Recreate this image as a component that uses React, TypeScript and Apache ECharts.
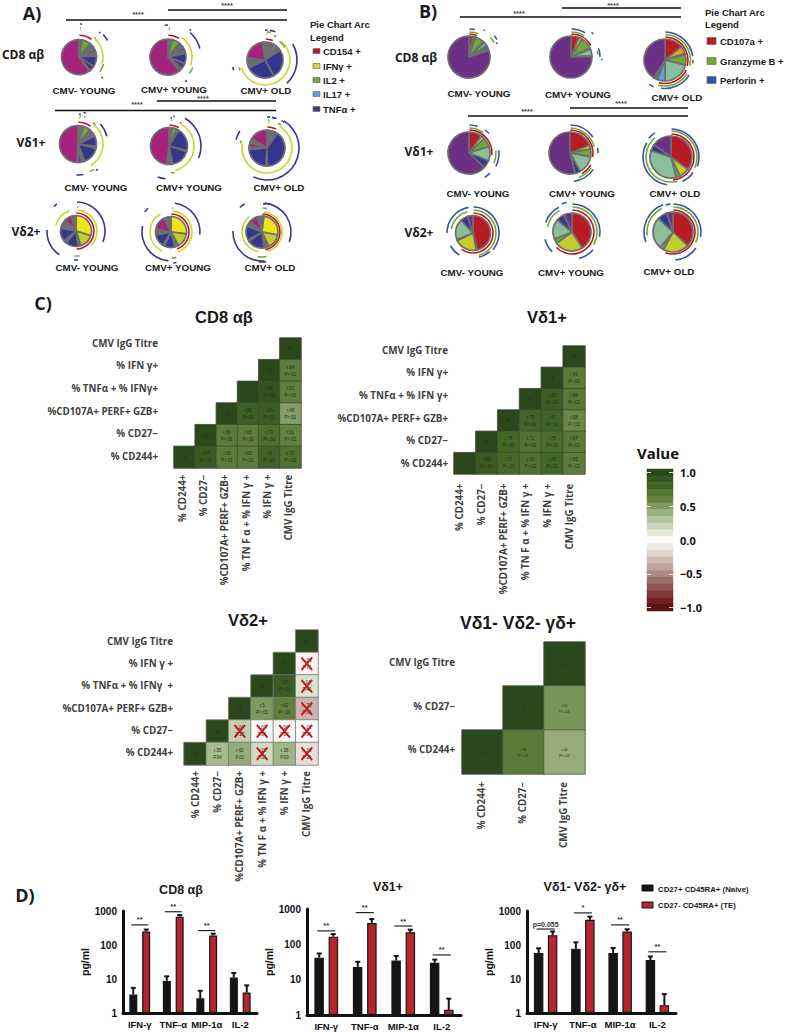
import React, { useEffect, useRef } from "react";
import * as echarts from "echarts";

// ---------- data: pie slices, clockwise from 12 o'clock ----------
type Slice = [string, number];
type Arc = [number, string, number, number];

const aCd8Young: Slice[] = [["grey", 3], ["il2", 8], ["grey", 7], ["blue2", 3], ["grey", 3], ["tnf", 10], ["purple", 5], ["grey", 1], ["mag", 60]];
const aCd8CmvYoung: Slice[] = [["grey", 4], ["il2", 7], ["grey", 5], ["blue2", 3], ["grey", 3], ["tnf", 9], ["purple", 5], ["grey", 3], ["mag", 61]];
const aCd8Old: Slice[] = [["grey", 5], ["sky", 1], ["grey", 2], ["sky", 3], ["grey", 5], ["tnf", 26], ["tnf", 26], ["grey", 9], ["mag", 21], ["grey", 2]];
const aV1Young: Slice[] = [["grey", 5], ["il2", 6], ["grey", 7], ["tnf", 9], ["grey", 2], ["tnf", 15], ["grey", 3], ["mag", 3], ["grey", 1], ["mag", 49]];
const aV1CmvYoung: Slice[] = [["grey", 3], ["il2", 4], ["grey", 2], ["tnf", 20], ["grey", 1], ["tnf", 17], ["grey", 2], ["grey", 3], ["mag", 48]];
const aV1Old: Slice[] = [["grey", 10], ["tnf", 40], ["grey", 1], ["tnf", 23], ["grey", 2], ["mag", 4], ["grey", 4], ["mag", 16]];
const aV2Young: Slice[] = [["yellow", 30], ["lime", 15], ["grey", 3], ["tnf", 13], ["grey", 3], ["tnf", 14], ["grey", 10], ["mag", 7], ["grey", 5]];
const aV2CmvYoung: Slice[] = [["yellow", 27], ["lime", 15], ["grey", 4], ["tnf", 11], ["grey", 2], ["tnf", 13], ["grey", 6], ["mag", 15], ["grey", 7]];
const aV2Old: Slice[] = [["grey", 2], ["yellow", 26], ["lime", 15], ["grey", 5], ["tnf", 17], ["grey", 2], ["tnf", 14], ["grey", 6], ["mag", 8], ["grey", 5]];

const bCd8Young: Slice[] = [["red", 3], ["grey", 1], ["orange", 1], ["green", 7], ["grey", 1], ["mint", 3], ["grey", 4], ["violet", 80]];
const bCd8CmvYoung: Slice[] = [["red", 6], ["orange", 3], ["green", 9], ["grey", 1], ["mint", 5], ["grey", 1], ["violet", 75]];
const bCd8Old: Slice[] = [["red", 14], ["orange", 6], ["lime", 1], ["green", 8], ["mint", 21], ["sky", 6], ["grey", 3], ["violet", 41]];
const bV1Young: Slice[] = [["red", 10], ["lime", 3], ["green", 7], ["mint", 11], ["tnf", 6], ["violet", 63]];
const bV1CmvYoung: Slice[] = [["red", 19], ["lime", 3], ["green", 6], ["mint", 14], ["tnf", 4], ["violet", 54]];
const bV1Old: Slice[] = [["red", 35], ["lime", 8], ["green", 3], ["mint", 34], ["tnf", 5], ["violet", 15]];
const bV2Young: Slice[] = [["red", 46], ["grey", 1], ["lime", 21], ["grey", 1], ["mint", 19], ["tnf", 7], ["violet", 5]];
const bV2CmvYoung: Slice[] = [["red", 41], ["lime", 24], ["green", 4], ["mint", 17], ["tnf", 7], ["violet", 7]];
const bV2Old: Slice[] = [["red", 37], ["lime", 21], ["green", 3], ["mint", 26], ["tnf", 8], ["violet", 5]];

// arcs: ring radius, channel, start and end angle in degrees
const aArc1: Arc[] = [[21.7, "r", 1, 35], [24, "y", 42, 106], [25.5, "g", 106, 125], [25, "g", 38, 42], [27, "y", 2, 4], [29, "g", 2, 4], [33, "n", 2, 5], [33, "n", 47, 60], [32, "n", 39, 42], [31, "n", 130, 133]];
const aArc2: Arc[] = [[21.7, "r", 1, 30], [24, "y", 35, 110], [27, "g", 113, 128], [33, "n", 42, 75], [27, "y", 1, 4], [29, "g", 1, 4], [32, "n", 357, 3], [35, "n", 38, 41], [30, "n", 141, 145]];
const aArc3: Arc[] = [[21, "r", 2, 22], [23.5, "g", 38, 58], [25, "y", 42, 252], [32, "n", 60, 137], [26, "y", 1, 5], [28, "g", 4, 12], [30, "n", 0, 5], [30, "n", 9, 20], [26, "g", 20, 26], [27, "g", 248, 254], [33, "n", 252, 258]];
const aArc4: Arc[] = [[21.7, "r", 1, 35], [25, "y", 38, 150], [30, "n", 48, 75], [30, "g", 148, 157], [31, "n", 170, 183], [26, "y", 1, 5], [28, "g", 3, 6], [30, "n", 2, 5], [32, "n", 10, 14], [28, "g", 12, 15], [26, "g", 35, 42], [32, "n", 142, 146]];
const aArc5: Arc[] = [[21, "r", 1, 28], [25, "y", 30, 165], [32, "n", 30, 112], [27, "g", 168, 176], [33, "n", 186, 200], [26, "g", 5, 8], [28, "n", 3, 6], [30, "n", 8, 11], [26, "g", 24, 29]];
const aArc6: Arc[] = [[21, "r", 1, 25], [25, "y", 30, 282], [32, "n", 32, 205], [27, "g", 280, 286], [32, "n", 285, 302], [26, "y", 2, 6], [28, "g", 2, 5], [31, "n", 0, 6], [31, "n", 9, 18], [27, "g", 24, 32], [31, "n", 28, 34]];
const aArc7: Arc[] = [[18, "r", 1, 178], [21, "y", 5, 133], [21, "y", 285, 342], [29, "n", 2, 112], [29, "n", 215, 272], [25, "g", 172, 184], [29, "n", 176, 184], [33, "n", 318, 325], [24, "g", 2, 5]];
const aArc8: Arc[] = [[18, "r", 1, 160], [21, "y", 5, 160], [21, "y", 205, 330], [29, "n", 8, 95], [29, "n", 185, 282], [26, "g", 168, 178], [33, "n", 307, 316], [24, "g", 3, 6], [31, "n", 170, 176]];
const aArc9: Arc[] = [[18, "r", 1, 170], [20, "y", 5, 165], [20, "y", 190, 320], [29, "n", 5, 110], [29, "n", 175, 272], [25, "g", 170, 190], [33, "n", 318, 328], [24, "g", 2, 12], [28, "n", 2, 8], [30, "n", 172, 186]];

const bArc1: Arc[] = [[23, "r", 1, 20], [25, "g", 1, 22], [28, "n", 1, 12], [29, "g", 48, 60], [33, "n", 50, 58], [31, "n", 28, 31], [31, "n", 62, 65]];
const bArc2: Arc[] = [[23, "r", 1, 60], [25, "g", 1, 32], [28, "n", 1, 30], [29, "n", 73, 90], [27, "g", 76, 85], [32, "n", 40, 44], [31, "n", 93, 96]];
const bArc3: Arc[] = [[23, "r", 1, 105], [25.5, "g", 1, 103], [28, "n", 1, 82], [28, "n", 90, 97], [23.5, "r", 115, 195], [26, "g", 122, 195], [28.5, "n", 122, 188], [29, "n", 203, 213]];
const bArc4: Arc[] = [[23, "r", 1, 95], [25, "g", 1, 35], [28, "n", 1, 18], [28, "n", 35, 46], [27, "g", 85, 112], [30, "n", 85, 116], [29, "n", 134, 147]];
const bArc5: Arc[] = [[23, "r", 1, 100], [25, "g", 1, 75], [28, "n", 1, 55], [28, "n", 80, 90], [24, "r", 120, 150], [26, "g", 125, 160], [28.5, "n", 125, 172]];
const bArc6: Arc[] = [[23, "r", 1, 175], [26, "g", 1, 115], [28, "n", 1, 110], [27, "n", 125, 155], [25, "g", 165, 320], [28, "n", 188, 300], [29, "n", 310, 326]];
const bArc7: Arc[] = [[20, "r", 1, 215], [23, "g", 1, 165], [26, "n", 1, 130], [25, "n", 138, 166], [22, "g", 280, 345], [26, "n", 270, 350], [26, "n", 212, 240]];
const bArc8: Arc[] = [[22, "r", 1, 225], [25, "g", 1, 120], [28, "n", 1, 100], [27.5, "n", 130, 165], [25, "g", 282, 330], [28, "n", 290, 332], [28, "n", 225, 255], [30, "n", 340, 350]];
const bArc9: Arc[] = [[22, "r", 1, 200], [25, "g", 1, 115], [28, "n", 1, 100], [28, "n", 125, 175], [26, "g", 262, 335], [29, "n", 250, 340], [28, "n", 345, 355]];

// ---------- data: correlation matrices ----------
const fullRows = ["CMV IgG Titre", "% IFN γ+", "% TNFα + % IFN γ+", "%CD107A+ PERF+ GZB+", "% CD27−", "% CD244+"];
const fullCols = ["% CD244+", "% CD27−", "%CD107A+ PERF+ GZB+", "% TN F α + % IFN γ +", "% IFN γ +", "CMV IgG Titre"];
const cd8Rows = ["CMV IgG Titre", "% IFN γ+", "% TNFα + % IFNγ+", "%CD107A+ PERF+ GZB+", "% CD27−", "% CD244+"];
const v2Rows = ["CMV IgG Titre", "% IFN γ +", "% TNFα + % IFNγ  +", "%CD107A+ PERF+ GZB+", "% CD27−", "% CD244+"];
const dnRows = ["CMV IgG Titre", "% CD27−", "% CD244+"];
const dnCols = ["% CD244+", "% CD27−", "CMV IgG Titre"];

// [column, row from top, r value, r label, p label]
type Cell = [number, number, number, string, string];
const cd8Cells: Cell[] = [
  [5, 0, 1, "r1", ""],
  [4, 1, 1, "r1", ""], [5, 1, 0.64, "r.64", "P<.01"],
  [3, 2, 1, "r1", ""], [4, 2, 0.91, "r.91", "P<.01"], [5, 2, 0.63, "r.63", "P<.01"],
  [2, 3, 1, "r1", ""], [3, 3, 0.82, "r.82", "P<.01"], [4, 3, 0.83, "r.83", "P<.01"], [5, 3, 0.48, "r.48", "P<.01"],
  [1, 4, 1, "r1", ""], [2, 4, 0.66, "r.66", "P<.01"], [3, 4, 0.65, "r.65", "P<.01"], [4, 4, 0.73, "r.73", "P<.01"], [5, 4, 0.61, "r.61", "P<.01"],
  [0, 5, 1, "r1", ""], [1, 5, 0.87, "r.87", "P<.01"], [2, 5, 0.65, "r.65", "P<.01"], [3, 5, 0.65, "r.65", "P<.01"], [4, 5, 0.8, "r.8", "P<.01"], [5, 5, 0.72, "r.72", "P<.01"],
];
const v1Cells: Cell[] = [
  [5, 0, 1, "r1", ""],
  [4, 1, 1, "r1", ""], [5, 1, 0.66, "r.66", "P<.01"],
  [3, 2, 1, "r1", ""], [4, 2, 0.83, "r.83", "P<.01"], [5, 2, 0.68, "r.68", "P<.01"],
  [2, 3, 1, "r1", ""], [3, 3, 0.79, "r.79", "P<.01"], [4, 3, 0.8, "r.8", "P<.01"], [5, 3, 0.58, "r.58", "P<.01"],
  [1, 4, 1, "r1", ""], [2, 4, 0.78, "r.78", "P<.01"], [3, 4, 0.71, "r.71", "P<.01"], [4, 4, 0.75, "r.75", "P<.01"], [5, 4, 0.67, "r.67", "P<.01"],
  [0, 5, 1, "r1", ""], [1, 5, 0.86, "r.86", "P<.01"], [2, 5, 0.77, "r.77", "P<.01"], [3, 5, 0.72, "r.72", "P<.01"], [4, 5, 0.78, "r.78", "P<.01"], [5, 5, 0.65, "r.65", "P<.01"],
];
const v2Cells: Cell[] = [
  [5, 0, 1, "r1", ""],
  [4, 1, 1, "r1", ""], [5, 1, -0.06, "r-.06", "P.75"],
  [3, 2, 1, "r1", ""], [4, 2, 0.85, "r.85", "P<.01"], [5, 2, 0.14, "r.14", "P.42"],
  [2, 3, 1, "r1", ""], [3, 3, 0.5, "r.5", "P<.01"], [4, 3, 0.62, "r.62", "P<.01"], [5, 3, -0.33, "r-.33", "P.06"],
  [1, 4, 1, "r1", ""], [2, 4, 0.24, "r.24", "P.17"], [3, 4, 0.03, "r.03", "P.86"], [4, 4, 0.04, "r.04", "P.82"], [5, 4, -0.01, "r-.01", "P.96"],
  [0, 5, 1, "r1", ""], [1, 5, 0.35, "r.35", "P.04"], [2, 5, 0.42, "r.42", "P.01"], [3, 5, 0.18, "r.18", "P.31"], [4, 5, 0.38, "r.38", "P.03"], [5, 5, -0.16, "r-.16", "P.36"],
];
const v2Crossed: number[][] = [[5, 1], [5, 2], [5, 3], [2, 4], [3, 4], [4, 4], [5, 4], [3, 5], [5, 5]];
const dnCells: Cell[] = [
  [2, 0, 1, "r1", ""],
  [1, 1, 1, "r1", ""], [2, 1, 0.52, "r.52", "P<.01"],
  [0, 2, 1, "r1", ""], [1, 2, 0.66, "r.66", "P<.01"], [2, 2, 0.42, "r.42", "P<.01"],
];
const scaleValues = [1, 0.9, 0.8, 0.7, 0.6, 0.5, 0.4, 0.3, 0.2, 0.1, 0, -0.1, -0.2, -0.3, -0.4, -0.5, -0.6, -0.7, -0.8, -0.9, -1];
const scaleLabels: Record<string, string> = { "1": "1.0", "0.5": "0.5", "0": "0.0", "-0.5": "−0.5", "-1": "−1.0" };
const scaleColors = ["#5a1315", "#701f20", "#7e3a38", "#8e5551", "#9d706a", "#ae8a84", "#c1a39e", "#d2bab6", "#e3d3d1", "#f1e9e8", "#ffffff", "#e4eadc", "#cbd6bd", "#b4c4a0", "#9bb080", "#7d9a60", "#648342", "#557534", "#3f6226", "#35561f", "#2b471c"];

// ---------- data: cytokine bars ----------
const cytokines = ["IFN-γ", "TNF-α", "MIP-1α", "IL-2"];
const naiveName = "CD27+ CD45RA+ (Naive)";
const teName = "CD27- CD45RA+ (TE)";
const cd8Naive = [3.5, 8.8, 2.7, 11];
const cd8NaiveTop = [5.5, 12, 4.5, 15];
const cd8Te = [250, 680, 190, 4];
const cd8TeTop = [285, 760, 215, 6.5];
const cd8Sig: [number, number, string][] = [[0, 390, "**"], [1, 950, "**"], [2, 265, "**"]];
const v1Naive = [42, 23, 35, 30];
const v1NaiveTop = [55, 32, 47, 37];
const v1Te = [165, 400, 220, 1.4];
const v1TeTop = [195, 520, 260, 2.9];
const v1Sig: [number, number, string][] = [[0, 240, "**"], [1, 790, "**"], [2, 330, "**"], [3, 50, "**"]];
const dnNaive = [58, 78, 58, 36];
const dnNaiveTop = [80, 120, 82, 46];
const dnTe = [195, 550, 250, 1.7];
const dnTeTop = [250, 680, 290, 3.6];
const dnSig: [number, number, string][] = [[0, 295, "p=0.055"], [1, 880, "*"], [2, 390, "**"], [3, 63, "**"]];

// ---------- styles and layout ----------
const sliceColors: Record<string, string> = {
  grey: "#6d6e70", il2: "#6fab32", blue2: "#3c4c9e", tnf: "#33358f", purple: "#5c2d7f", violet: "#6b2f84", mag: "#a5237d",
  sky: "#5aa5d8", yellow: "#ece51a", lime: "#c2cf28", red: "#b71c23", orange: "#e8a31e", green: "#6fab32", mint: "#8bbf9b",
};
const arcColorsA: Record<string, string> = { r: "#c5161d", y: "#cdd62a", g: "#6fab32", n: "#3b3493" };
const arcColorsB: Record<string, string> = { r: "#c5161d", g: "#6fab32", n: "#3a53a4" };
const sans = "'Liberation Sans', Arial, sans-serif";
const open = "'Open Sans', sans-serif";

const pieLayout: [Slice[], Arc[], Record<string, string>, number, number, number][] = [
  [aCd8Young, aArc1, arcColorsA, 79, 57, 17.5], [aCd8CmvYoung, aArc2, arcColorsA, 168, 57, 18], [aCd8Old, aArc3, arcColorsA, 265, 60, 18],
  [aV1Young, aArc4, arcColorsA, 78, 144, 18.5], [aV1CmvYoung, aArc5, arcColorsA, 169, 146, 18.5], [aV1Old, aArc6, arcColorsA, 267, 148, 18],
  [aV2Young, aArc7, arcColorsA, 76, 231, 15.5], [aV2CmvYoung, aArc8, arcColorsA, 171, 232, 15.5], [aV2Old, aArc9, arcColorsA, 262, 232, 16],
  [bCd8Young, bArc1, arcColorsB, 469, 57, 21], [bCd8CmvYoung, bArc2, arcColorsB, 571, 57, 21], [bCd8Old, bArc3, arcColorsB, 665, 60, 21],
  [bV1Young, bArc4, arcColorsB, 469, 153, 21], [bV1CmvYoung, bArc5, arcColorsB, 570, 153, 21], [bV1Old, bArc6, arcColorsB, 671, 157, 21],
  [bV2Young, bArc7, arcColorsB, 473, 233, 17.5], [bV2CmvYoung, bArc8, arcColorsB, 572, 232, 19], [bV2Old, bArc9, arcColorsB, 673, 232, 20],
];

function buildOption() {
  const series: any[] = [];
  const grid: any[] = [];
  const xAxis: any[] = [];
  const yAxis: any[] = [];
  const heatIdx: number[] = [];

  // pies and their arcs
  pieLayout.forEach(([slices, arcs, arcColors, cx, cy, r], p) => {
    series.push({
      type: "pie", name: "pie" + p, center: [cx, cy], radius: [0, r], startAngle: 90, silent: true,
      label: { show: false }, labelLine: { show: false }, z: 3,
      itemStyle: { borderColor: "#6d6e70", borderWidth: 1.7 },
      data: slices.map(([k, v]) => ({ name: k, value: v, itemStyle: { color: sliceColors[k] } })),
    });
    arcs.forEach(([ring, ch, s, e]) => {
      const span = e >= s ? e - s : e + 360 - s;
      const parts: any[] = [];
      if (s > 0) parts.push({ name: "gap", value: s, itemStyle: { color: "transparent" } });
      parts.push({ name: ch, value: span, itemStyle: { color: arcColors[ch] } });
      if (s + span < 360) parts.push({ name: "gap", value: 360 - s - span, itemStyle: { color: "transparent" } });
      series.push({
        type: "pie", name: "arc", center: [cx, cy], radius: [ring - 0.8, ring + 0.8], startAngle: 90, silent: true,
        label: { show: false }, labelLine: { show: false }, z: 4, itemStyle: { borderWidth: 0 }, data: parts,
      });
    });
  });

  const addGrid = (left: number, top: number, width: number, height: number) => {
    grid.push({ left, top, width, height });
    return grid.length - 1;
  };

  // correlation matrices
  const addMatrix = (
    cols: string[], rows: string[], cells: Cell[],
    cellBox: number[], labelBox: number[], yMargin: number, xMargin: number,
    border: string, fontSize: number, lineHeight: number,
  ) => {
    const g = addGrid(cellBox[0], cellBox[1], cellBox[2], cellBox[3]);
    xAxis.push({ type: "category", gridIndex: g, data: cols, show: false });
    yAxis.push({ type: "category", gridIndex: g, data: rows, inverse: true, show: false });
    const xi = xAxis.length - 1;
    heatIdx.push(series.length);
    series.push({
      type: "heatmap", xAxisIndex: xi, yAxisIndex: xi, silent: true, z: 2,
      itemStyle: { borderColor: border, borderWidth: 0.8 },
      label: {
        show: true, fontSize, lineHeight, color: "#22301a", fontFamily: sans,
        formatter: (p: any) => (p.data[4] ? p.data[3] + "\n" + p.data[4] : p.data[3]),
      },
      data: cells.map((c) => [c[0], c[1], c[2], c[3], c[4]]),
    });
    const lg = addGrid(labelBox[0], labelBox[1], labelBox[2], labelBox[3]);
    const labelStyle = { color: "#3f3f40", fontFamily: open, fontWeight: "bold", fontSize: 9.8 };
    xAxis.push({
      type: "category", gridIndex: lg, data: cols, position: "bottom",
      axisLine: { show: false, onZero: false }, axisTick: { show: false }, splitLine: { show: false },
      axisLabel: { ...labelStyle, interval: 0, rotate: 90, margin: xMargin },
    });
    yAxis.push({
      type: "category", gridIndex: lg, data: rows, inverse: true, position: "left",
      axisLine: { show: false, onZero: false }, axisTick: { show: false }, splitLine: { show: false },
      axisLabel: { ...labelStyle, interval: 0, margin: yMargin },
    });
    return xi;
  };

  addMatrix(fullCols, cd8Rows, cd8Cells, [174, 338, 127, 130], [172, 332, 127, 135.6], 14, 7, "#3f4a36", 4.5, 7);
  addMatrix(fullCols, fullRows, v1Cells, [454, 346, 131, 128], [449, 339, 131, 135.6], 1, 9, "#3f4a36", 4.5, 7);
  const v2x = addMatrix(fullCols, v2Rows, v2Cells, [184, 630, 134, 135], [184, 630, 134, 134], 11, 7, "#77796f", 4.5, 7);
  addMatrix(dnCols, dnRows, dnCells, [462, 642, 123, 132], [461, 641, 123, 130], 6, 11, "#4c5a42", 4, 6);

  series.push({
    type: "scatter", xAxisIndex: v2x, yAxisIndex: v2x, silent: true, z: 5,
    symbol: "path://M1,0L5,4L9,0L10,1L6,5L10,9L9,10L5,6L1,10L0,9L4,5L0,1Z",
    symbolSize: [12, 14], itemStyle: { color: "#c4161c", opacity: 1 }, data: v2Crossed,
  });

  // colour scale
  const sg = addGrid(647, 469, 26, 142);
  const tickInterval = (i: number) => i % 5 === 0;
  const tickLine = { show: true, inside: true, alignWithLabel: true, length: 4, interval: tickInterval, lineStyle: { color: "#ffffff", width: 0.8 } };
  xAxis.push({ type: "category", gridIndex: sg, data: ["Value"], show: false });
  xAxis.push({ type: "category", gridIndex: sg, data: ["Value"], show: false });
  yAxis.push({
    type: "category", gridIndex: sg, data: scaleValues.map(String), inverse: true, position: "left", z: 6,
    axisLine: { show: false }, axisTick: tickLine, axisLabel: { show: false },
  });
  const si = yAxis.length - 1;
  yAxis.push({
    type: "category", gridIndex: sg, data: scaleValues.map(String), inverse: true, position: "right", z: 6,
    axisLine: { show: false }, axisTick: tickLine,
    axisLabel: {
      show: true, interval: 0, margin: 7, color: "#111", fontFamily: open, fontWeight: "bold", fontSize: 11,
      formatter: (v: string) => scaleLabels[v] ?? "",
    },
  });
  heatIdx.push(series.length);
  series.push({
    type: "heatmap", xAxisIndex: si, yAxisIndex: si, silent: true, z: 2,
    data: scaleValues.map((v, i) => [0, i, v]),
  });

  // cytokine bars
  const addBars = (
    box: number[], naive: number[], naiveTop: number[], te: number[], teTop: number[],
    sig: [number, number, string][], barWidth: number, barGap: string, offset: number, nameGap: number,
  ) => {
    const g = addGrid(box[0], box[1], box[2], box[3]);
    xAxis.push({
      type: "category", gridIndex: g, data: cytokines, axisTick: { show: false },
      axisLine: { onZero: false, lineStyle: { color: "#111", width: 3 } },
      axisLabel: { interval: 0, color: "#111", fontFamily: sans, fontWeight: "bold", fontSize: 9.5, margin: 6 },
    });
    yAxis.push({
      type: "log", gridIndex: g, min: 1, max: 1000, logBase: 10, splitLine: { show: false },
      name: "pg/ml", nameLocation: "middle", nameRotate: 90, nameGap,
      nameTextStyle: { color: "#111", fontFamily: sans, fontWeight: "bold", fontSize: 10.5 },
      axisLine: { show: true, lineStyle: { color: "#111", width: 3 } }, axisTick: { show: false }, minorTick: { show: false },
      axisLabel: {
        color: "#111", fontFamily: sans, fontWeight: "bold", fontSize: 10, margin: 6,
        formatter: (v: number) => String(Math.round(v)),
      },
    });
    const i = xAxis.length - 1;
    const bar = (name: string, data: number[], color: string) => ({
      type: "bar", name, xAxisIndex: i, yAxisIndex: i, data, barWidth, barGap, silent: true, z: 3,
      itemStyle: { color, borderColor: "#161616", borderWidth: 1.2 },
    });
    series.push(bar(naiveName, naive, "#151515"), bar(teName, te, "#b5262e"));
    const errors = (tops: number[], vals: number[], dx: number) => ({
      type: "custom", xAxisIndex: i, yAxisIndex: i, silent: true, z: 2, clip: false,
      data: tops.map((t, k) => [k, vals[k], t]),
      renderItem: (_: any, api: any) => {
        const lo = api.coord([api.value(0), api.value(1)]);
        const hi = api.coord([api.value(0), api.value(2)]);
        const x = lo[0] + dx;
        const style = { stroke: "#161616", lineWidth: 2 };
        return {
          type: "group", children: [
            { type: "line", shape: { x1: x, y1: lo[1], x2: x, y2: hi[1] }, style },
            { type: "line", shape: { x1: x - 2.5, y1: hi[1], x2: x + 2.5, y2: hi[1] }, style },
          ],
        };
      },
    });
    series.push(errors(naiveTop, naive, -offset), errors(teTop, te, offset));
    series.push({
      type: "custom", xAxisIndex: i, yAxisIndex: i, silent: true, z: 4, clip: false,
      data: sig.map((s) => [s[0], s[1]]),
      renderItem: (p: any, api: any) => {
        const c = api.coord([api.value(0), api.value(1)]);
        const w = offset + 2;
        const label = sig[p.dataIndex][2];
        return {
          type: "group", children: [
            { type: "line", shape: { x1: c[0] - w, y1: c[1], x2: c[0] + w, y2: c[1] }, style: { stroke: "#111", lineWidth: 1.1 } },
            {
              type: "text", x: c[0], y: c[1] - 1,
              style: { text: label, fill: "#333", fontSize: label.length > 2 ? 7 : 7.5, fontFamily: sans, fontWeight: "bold", align: "center", verticalAlign: "bottom" },
            },
          ],
        };
      },
    });
  };
  addBars([123, 911, 134, 102], cd8Naive, cd8NaiveTop, cd8Te, cd8TeTop, cd8Sig, 8, "60%", 6.5, 31);
  addBars([307, 909, 154, 106], v1Naive, v1NaiveTop, v1Te, v1TeTop, v1Sig, 9.5, "50%", 7, 29);
  addBars([527, 911, 149, 102], dnNaive, dnNaiveTop, dnTe, dnTeTop, dnSig, 9.5, "47%", 7, 30);

  // page texts, legends and comparison lines
  const T = (x: number, y: number, text: string, fontSize: number, align = "center", fontFamily = sans, fill = "#1a1a1a") => ({
    type: "text", x, y, style: { text, fontSize, fontFamily, fontWeight: "bold", fill, align, verticalAlign: "middle" },
  });
  const L = (x1: number, x2: number, y: number) => ({ type: "line", shape: { x1, y1: y, x2, y2: y }, style: { stroke: "#111", lineWidth: 1.3 } });
  const S = (x: number, y: number, w: number, h: number, fill: string) => ({ type: "rect", shape: { x, y: y - h / 2, width: w, height: h }, style: { fill, stroke: "#6d6e70", lineWidth: 0.7 } });
  const graphics: any[] = [
    T(32, 13, "A)", 18, "center", open), T(428, 11, "B)", 18, "center", open), T(43, 303, "C)", 18, "center", open), T(25, 895, "D)", 18, "center", open),
    T(23, 54, "CD8 αβ", 12, "center", open), T(31, 142, "Vδ1+", 12, "center", open), T(26, 231, "Vδ2+", 12, "center", open),
    T(416, 57, "CD8 αβ", 12, "center", open), T(419, 151, "Vδ1+", 12, "center", open), T(419, 232, "Vδ2+", 12, "center", open),
    L(168, 287, 10), L(66, 287, 20), L(157, 276, 101), L(55, 276, 110.5),
    L(562, 681, 8), L(460, 681, 17), L(570, 688, 108), L(468, 688, 116),
  ];
  const stars: number[][] = [[227, 5], [138, 14], [203, 98], [137, 104], [613, 5], [519, 13], [621, 103], [527, 111]];
  stars.forEach(([x, y]) => graphics.push(T(x, y, "****", 7.5, "center", sans, "#444")));
  const pieNames: [number, number, string][] = [
    [84, 90, "CMV- YOUNG"], [174, 89, "CMV+ YOUNG"], [266, 90, "CMV+ OLD"],
    [96, 187, "CMV- YOUNG"], [189, 187, "CMV+ YOUNG"], [279, 187, "CMV+ OLD"],
    [87, 267, "CMV- YOUNG"], [178, 267, "CMV+ YOUNG"], [270, 267, "CMV+ OLD"],
    [479, 93, "CMV- YOUNG"], [578, 94, "CMV+ YOUNG"], [677, 97, "CMV+ OLD"],
    [478, 193, "CMV- YOUNG"], [582, 193, "CMV+ YOUNG"], [675, 193, "CMV+ OLD"],
    [472, 272, "CMV- YOUNG"], [571, 272, "CMV+ YOUNG"], [669, 271, "CMV+ OLD"],
  ];
  pieNames.forEach(([x, y, t]) => graphics.push(T(x, y, t, 9.8)));
  graphics.push(T(310, 24, "Pie Chart Arc", 9.5, "left"), T(310, 37, "Legend", 9.5, "left"));
  const legendA: [string, string, number][] = [["CD154 +", "#c5161d", 51], ["IFNγ +", "#d3d92a", 66], ["IL2 +", "#6fab32", 80], ["IL17 +", "#5aa5d8", 94], ["TNFα +", "#3b3493", 109]];
  legendA.forEach(([t, c, y]) => graphics.push(S(313, y, 7, 5, c), T(323, y, t, 9.5, "left")));
  graphics.push(T(705, 12, "Pie Chart Arc", 9.5, "left"), T(705, 24, "Legend", 9.5, "left"));
  const legendB: [string, string, number][] = [["CD107a +", "#c5161d", 41], ["Granzyme B +", "#6fab32", 61], ["Perforin +", "#3a53a4", 80]];
  legendB.forEach(([t, c, y]) => graphics.push(S(707, y, 9, 7, c), T(720, y, t, 9.5, "left")));
  graphics.push(
    T(224, 317, "CD8 αβ", 16.5), T(547, 317, "Vδ1+", 16.5), T(248, 620, "Vδ2+", 16.5), T(460, 623, "Vδ1- Vδ2- γδ+", 17.5, "left"),
    T(658, 453, "Value", 15, "center", open, "#111"),
    T(181, 890, "CD8 αβ", 12.5), T(388, 887, "Vδ1+", 12.5), T(585, 887, "Vδ1- Vδ2- γδ+", 12.5),
    { type: "rect", shape: { x: 642, y: 885, width: 11, height: 6 }, style: { fill: "#151515", stroke: "#151515", lineWidth: 1 } },
    { type: "rect", shape: { x: 642, y: 902, width: 11, height: 6 }, style: { fill: "#b5262e", stroke: "#151515", lineWidth: 1 } },
    T(658, 889, naiveName, 7.8, "left"), T(658, 905, teName, 7.8, "left"),
  );

  return {
    animation: false,
    backgroundColor: "#ffffff",
    grid, xAxis, yAxis, series,
    visualMap: {
      show: false, type: "continuous", min: -1, max: 1, dimension: 2, seriesIndex: heatIdx,
      inRange: { color: scaleColors },
    },
    graphic: { elements: graphics },
  };
}

export default function App() {
  const ref = useRef<HTMLDivElement>(null);
  useEffect(() => {
    document.body.style.margin = "0";
    const chart = echarts.init(ref.current!, null, { renderer: "svg" });
    chart.setOption(buildOption());
    return () => chart.dispose();
  }, []);
  return <div ref={ref} style={{ width: 790, height: 1032, position: "absolute", left: 0, top: 0 }} />;
}
